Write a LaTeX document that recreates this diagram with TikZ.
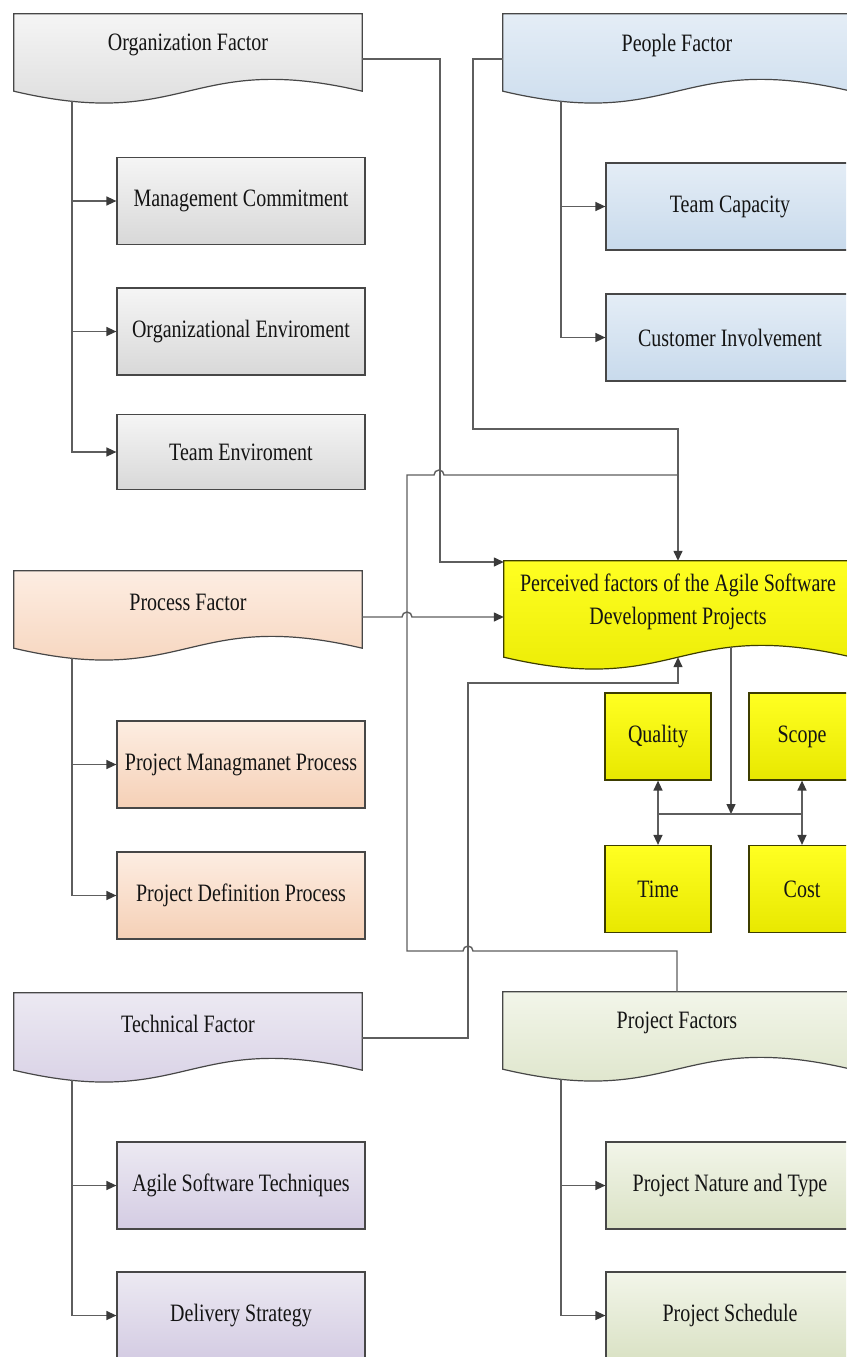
\documentclass[tikz,border=0pt]{standalone}
\usepackage{fontspec}
\setmainfont{Liberation Serif}[FakeStretch=0.8]
\usetikzlibrary{arrows.meta,calc,backgrounds}
\definecolor{grayT}{HTML}{F5F5F5}\definecolor{grayB}{HTML}{D8D8D8}
\definecolor{blueT}{HTML}{E4EDF6}\definecolor{blueB}{HTML}{C8DAEC}
\definecolor{peachT}{HTML}{FDEDE2}\definecolor{peachB}{HTML}{F5D0B6}
\definecolor{lavT}{HTML}{ECE9F2}\definecolor{lavB}{HTML}{D4CCE3}
\definecolor{oliveT}{HTML}{F2F5E9}\definecolor{oliveB}{HTML}{DAE2C5}
\definecolor{yelT}{HTML}{FFFF22}\definecolor{yelB}{HTML}{E8E800}
\definecolor{edge}{HTML}{474747}
\definecolor{yedge}{HTML}{3D3D00}
\definecolor{lineC}{HTML}{5E5E5E}
\definecolor{tipC}{HTML}{3A3A3A}
\definecolor{txt}{HTML}{141414}
\newcommand{\docwave}[4]{%
  \begin{pgfonlayer}{background}
  \path[draw=#4, line width=1.2pt, top color=#2, bottom color=#3]
    (#1.north west) -- (#1.north east) -- ($(#1.south east)+(0,15)$)
    .. controls ($(#1.south)+(0,-26)$) and ($(#1.south)+(0,56)$) ..
    ($(#1.south west)+(0,15)$) -- cycle;
  \end{pgfonlayer}}
\tikzset{
  lbl/.style={font=\fontsize{25}{33}\selectfont, text=txt, align=center, inner sep=0pt},
  fact/.style={lbl, minimum width=348pt, minimum height=62pt},
  childbox/.style={lbl, draw=edge, line width=1.2pt, minimum width=248pt, minimum height=87pt},
  smallbox/.style={lbl, draw=yedge, line width=1.2pt, minimum width=106pt, minimum height=87pt, top color=yelT, bottom color=yelB},
  conn/.style={draw=lineC, line width=1.4pt},
  arr/.style={conn, -{Triangle[length=10pt,width=9pt,color=tipC]}},
  darr/.style={conn, {Triangle[length=10pt,width=9pt,color=tipC]}-{Triangle[length=10pt,width=9pt,color=tipC]}},
}
\begin{document}
\begin{tikzpicture}[x=1pt,y=-1pt]
\useasboundingbox (0,0) rectangle (846,1357);
\clip (0,0) rectangle (846,1357);

% factor shapes
\node[fact] (org) at (188,45) {Organization Factor};
\docwave{org}{grayT}{grayB}{edge}
\node[fact] (people) at (677,45) {People Factor};
\docwave{people}{blueT}{blueB}{edge}
\node[fact] (proc) at (188,602) {Process Factor};
\docwave{proc}{peachT}{peachB}{edge}
\node[fact, minimum height=81pt] (perc) at (678,601.5) {Perceived factors of the Agile Software\\Development Projects};
\docwave{perc}{yelT}{yelB}{yedge}
\node[fact] (tech) at (188,1024) {Technical Factor};
\docwave{tech}{lavT}{lavB}{edge}
\node[fact] (proj) at (677,1023) {Project Factors};
\docwave{proj}{oliveT}{oliveB}{edge}

% child boxes
\node[childbox, top color=grayT, bottom color=grayB] (mc) at (241,201) {Management Commitment};
\node[childbox, top color=grayT, bottom color=grayB] (oe) at (241,331.5) {Organizational Enviroment};
\node[childbox, top color=grayT, bottom color=grayB, minimum height=75pt] (te) at (241,452) {Team Enviroment};
\node[childbox, top color=blueT, bottom color=blueB] (tc) at (730,206.5) {Team Capacity};
\node[childbox, top color=blueT, bottom color=blueB] (ci) at (730,337.5) {Customer Involvement};
\node[childbox, top color=peachT, bottom color=peachB] (pmp) at (241,764.5) {Project Managmanet Process};
\node[childbox, top color=peachT, bottom color=peachB] (pdp) at (241,895.5) {Project Definition Process};
\node[childbox, top color=lavT, bottom color=lavB] (ast) at (241,1185.5) {Agile Software Techniques};
\node[childbox, top color=lavT, bottom color=lavB] (ds) at (241,1315.5) {Delivery Strategy};
\node[childbox, top color=oliveT, bottom color=oliveB] (pnt) at (730,1185.5) {Project Nature and Type};
\node[childbox, top color=oliveT, bottom color=oliveB] (ps) at (730,1315.5) {Project Schedule};

% quality / scope / time / cost
\node[smallbox] (qual) at (658,736.5) {Quality};
\node[smallbox] (scope) at (802,736.5) {Scope};
\node[smallbox] (time) at (658,889) {Time};
\node[smallbox] (cost) at (802,889) {Cost};

% branch coordinates
\coordinate (orgB) at (72,101);
\coordinate (peoB) at (561,101);
\coordinate (procB) at (72,658);
\coordinate (techB) at (72,1080);
\coordinate (projB) at (561,1079);
\foreach \n in {mc,oe,te} \draw[arr] (orgB) |- (\n.west);
\foreach \n in {tc,ci} \draw[arr] (peoB) |- (\n.west);
\foreach \n in {pmp,pdp} \draw[arr] (procB) |- (\n.west);
\foreach \n in {ast,ds} \draw[arr] (techB) |- (\n.west);
\foreach \n in {pnt,ps} \draw[arr] (projB) |- (\n.west);

% connectors into perceived box
\coordinate (oTurn) at (440,562);
\coordinate (pTurn) at (473,429);
\coordinate (percB) at ($(perc.south)+(0,15)$);
\coordinate (percOut) at (731,647);
\coordinate (hub) at (731,814);

\draw[arr] ($(org.east)+(0,14)$) -| (oTurn) -- (oTurn -| perc.west);
\draw[arr] ($(people.west)+(0,14)$) -| (pTurn) -| (perc.north);
\draw[conn] (proj.north) -- (677,951) -- (473,951)
   arc[start angle=0, end angle=180, radius=5pt] -- (407,951) -- (407,475) -- (434,475)
   arc[start angle=180, end angle=0, radius=5pt] -- (678,475);
\draw[arr] ($(proc.east)+(0,15)$) -- (402,617)
   arc[start angle=180, end angle=0, radius=5pt] -- (perc.west |- 0,617);
\draw[arr] ($(tech.east)+(0,14)$) -- (468,1038) -- (468,683) -- (678,683) -- (percB);

% perceived to the four boxes
\draw[arr] (percOut) -- (hub);
\draw[conn] (qual.south |- hub) -- (scope.south |- hub);
\draw[darr] (qual.south) -- (time.north);
\draw[darr] (scope.south) -- (cost.north);
\end{tikzpicture}
\end{document}
